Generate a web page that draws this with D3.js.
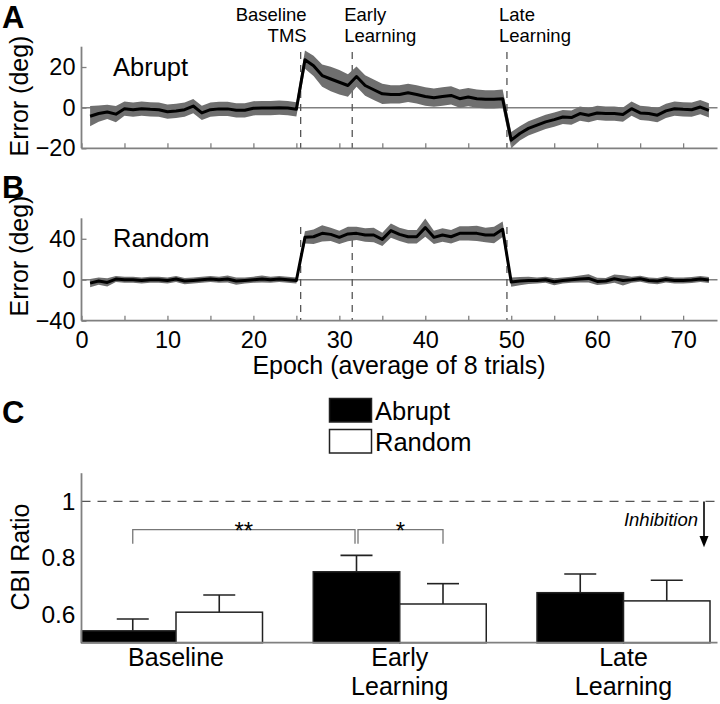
<!DOCTYPE html>
<html><head><meta charset="utf-8">
<script src="https://cdn.jsdelivr.net/npm/d3@7"></script>
<style>
body{margin:0;background:#fff}
svg{display:block}
text{font-family:"Liberation Sans",Arial,Helvetica,sans-serif;fill:#000}
</style>
</head><body>
<svg id="c" width="720" height="704"></svg>
<script>
// ---------- DATA ----------
const epochs = d3.range(1, 74);
const abruptMean = [-4.2,-2.9,-2.1,-3.2,-0.5,-1,-0.5,-0.8,-1,-2,-1.6,-1,0.8,-2.6,-1,-0.6,-0.6,-1.3,-1.3,-0.3,-0.2,-0.2,0,-0.2,-0.8,
  23.6,20.6,15.8,14.1,12.5,10.9,15.3,10.9,8.8,6.8,6.5,6.5,7.3,6.5,5.5,4.9,5.5,6,4.4,5.2,4.4,4.1,4.1,4.4,
  -16,-12.7,-10.2,-8.6,-7,-5.9,-4.6,-4.9,-2.9,-3.7,-2.6,-2.9,-2.9,-3.4,-0.5,-2.6,-2.9,-3.7,-1.6,-0.5,-0.8,-1,0.3,-1.3];
const abruptSem = [5,4,3.5,4,3.5,3.5,3.5,3.5,3.5,3.5,3.5,3.5,3.5,3.5,3.5,3.5,3.5,3.5,3.5,3.5,3.5,3.5,3.5,3.5,3.5,
  4.5,5,5.5,6,6,5.5,5,5,5,5,4.5,4.5,4.5,4.5,4.5,4.5,4.5,4.5,4.5,4.5,4.5,4.5,4.5,4.5,
  4,3.5,3.5,3.5,3.5,3.5,3.5,3.5,3.5,3.5,3.5,3.5,3.5,3.5,3.5,3.5,3.5,3.5,3.5,3.5,3.5,3.5,3.5,3.5];
const randomMean = [-3.3,-1.3,-2.6,0.7,0,0,-0.7,0,0,-0.7,0.7,-1.3,-0.7,0,0.7,0,0.7,-1.3,-0.7,0,0.7,0,0.7,0,-0.7,
  41.4,42,45.3,44.3,41.4,44.7,45.3,43.7,43.7,39.4,48,44.3,42,42,50.9,41.4,43.7,42,45.3,45.3,45.3,43.7,43.7,49.3,
  -2.3,-1.3,-0.7,-0.7,0,-2,-0.7,0,0.7,1.3,-1.6,-1.3,1,-0.7,0,1,-0.7,-1.3,0.3,-0.7,-0.7,-0.3,0.7,-0.3];
const randomSem = [4,3.5,4,3,3,3,3,3,3,3,3,3,3,3,3,3,3.5,3.5,3,3,3.5,3,3,3,3,
  6,7,8,6.5,6.5,7,6.5,6.5,7,6.5,7,6.5,6.5,6.5,9,6.5,6.5,6.5,7,7,7.5,7,8,7.5,
  4.5,4,3.5,3,3,3.5,3,3,3.5,4,3.5,3,4,5,3,3,3,3,3,3,3,3,3,3];
const phaseEpochs = [25.5, 31.5, 49.5];
const phaseLabels = [["Baseline","TMS"],["Early","Learning"],["Late","Learning"]];
const xTicks = [0,5,10,15,20,25,30,35,40,45,50,55,60,65,70];
const yTicksA = [-20,0,20];
const yTicksB = [-40,0,40];

const categories = ["Baseline","Early Learning","Late Learning"];
const abruptCBI = [0.542, 0.751, 0.677];
const abruptErr = [0.042, 0.058, 0.066];
const randomCBI = [0.608, 0.637, 0.648];
const randomErr = [0.061, 0.072, 0.073];
const yTicksC = [0.6, 0.8, 1];

// ---------- SETUP ----------
const svg = d3.select("#c");
const AX = "#808080";
const x = d3.scaleLinear().domain([0, 74]).range([81.5, 717.5]);
const yA = d3.scaleLinear().domain([-20, 30]).range([148.3, 46.7]);
const yB = d3.scaleLinear().domain([-40, 60]).range([320.7, 218.3]);

function panel(y, mean, sem, yTicks, showXLabels, label, labelY, dashTop) {
  const g = svg.append("g");
  g.append("line").attr("x1", x.range()[0]).attr("x2", x.range()[1])
    .attr("y1", y(0)).attr("y2", y(0)).attr("stroke", AX).attr("stroke-width", 1.5);
  phaseEpochs.forEach(p => {
    g.append("line").attr("x1", x(p)).attr("x2", x(p))
      .attr("y1", dashTop).attr("y2", y.range()[0])
      .attr("stroke", "#555").attr("stroke-width", 1.3).attr("stroke-dasharray", "7,6");
  });
  const data = epochs.map((e, i) => ({e, m: mean[i], s: sem[i]}));
  g.append("path").datum(data)
    .attr("d", d3.area().x(d => x(d.e)).y0(d => y(d.m - d.s)).y1(d => y(d.m + d.s)))
    .attr("fill", "#6f6f6f");
  g.append("path").datum(data)
    .attr("d", d3.line().x(d => x(d.e)).y(d => y(d.m)))
    .attr("fill", "none").attr("stroke", "#000").attr("stroke-width", 3).attr("stroke-linejoin", "round");
  const ya = g.append("g").attr("transform", `translate(${x.range()[0]},0)`)
    .call(d3.axisLeft(y).tickValues(yTicks).tickSize(-5).tickPadding(6));
  const xa = g.append("g").attr("transform", `translate(0,${y.range()[0]})`)
    .call(d3.axisBottom(x).tickValues(xTicks).tickSize(-5).tickPadding(11)
      .tickFormat(d => (showXLabels && d % 10 === 0) ? d : ""));
  [ya, xa].forEach(a => {
    a.select(".domain").attr("stroke", AX).attr("stroke-width", 1.8);
    a.selectAll(".tick line").attr("stroke", AX).attr("stroke-width", 1.3);
    a.selectAll("text").attr("font-size", 23.5).attr("font-family", "Liberation Sans, Arial, sans-serif").attr("fill", "#000");
  });
  ya.select(".domain").attr("d", `M0,${y.range()[1]}V${y.range()[0]}`);
  xa.select(".domain").attr("d", `M${x.range()[0]},0H${x.range()[1]}`);
  g.append("text").attr("x", 113).attr("y", labelY).attr("font-size", 25.5).text(label);
}

panel(yA, abruptMean, abruptSem, yTicksA, false, "Abrupt", 76, 52);
panel(yB, randomMean, randomSem, yTicksB, true, "Random", 247, 227);

phaseLabels.forEach((lines, i) => {
  const anchor = i === 0 ? "end" : "start";
  const xx = i === 0 ? x(phaseEpochs[i]) + 6 : x(phaseEpochs[i]) - 8;
  lines.forEach((t, j) => {
    svg.append("text").attr("x", xx).attr("y", 21 + j * 21)
      .attr("text-anchor", anchor).attr("font-size", 18.5).text(t);
  });
});

function ylabel(txt, cx, cy) {
  svg.append("text").attr("transform", `translate(${cx},${cy}) rotate(-90)`)
    .attr("text-anchor", "middle").attr("font-size", 25).text(txt);
}
ylabel("Error (deg)", 28, 96);
ylabel("Error (deg)", 28, 256);
svg.append("text").attr("x", 399).attr("y", 374).attr("text-anchor", "middle")
  .attr("font-size", 25).text("Epoch (average of 8 trials)");

[["A", 28], ["B", 198], ["C", 423]].forEach(([t, yy]) => {
  svg.append("text").attr("x", 2).attr("y", yy).attr("font-size", 31).attr("font-weight", "bold").text(t);
});

// ---------- PANEL C ----------
const yC = d3.scaleLinear().domain([0.5, 1.1]).range([642.7, 473.2]);
const xC = d3.scalePoint().domain(categories).range([176, 623.5]);
const bw = 86.5;
const xLeftC = 81.5, xRightC = 717.5;
const gC = svg.append("g");

gC.append("line").attr("x1", xLeftC).attr("x2", xRightC).attr("y1", yC(1)).attr("y2", yC(1))
  .attr("stroke", "#555").attr("stroke-width", 1.3).attr("stroke-dasharray", "9,7");

const bars = [];
categories.forEach((c, i) => {
  bars.push({c, i, s: "abrupt", v: abruptCBI[i], e: abruptErr[i], x0: (i === 0 ? xLeftC : xC(c) - bw), x1: xC(c), cx: xC(c) - bw / 2 });
  bars.push({c, i, s: "random", v: randomCBI[i], e: randomErr[i], x0: xC(c), x1: xC(c) + bw, cx: xC(c) + bw / 2 });
});
bars.forEach(b => {
  gC.append("line").attr("x1", b.cx).attr("x2", b.cx).attr("y1", yC(b.v)).attr("y2", yC(b.v + b.e))
    .attr("stroke", "#222").attr("stroke-width", 1.6);
  gC.append("line").attr("x1", b.cx - 16).attr("x2", b.cx + 16).attr("y1", yC(b.v + b.e)).attr("y2", yC(b.v + b.e))
    .attr("stroke", "#222").attr("stroke-width", 1.6);
});
gC.selectAll("rect.bar").data(bars).enter().append("rect")
  .attr("x", d => d.x0).attr("width", d => d.x1 - d.x0)
  .attr("y", d => yC(d.v)).attr("height", d => yC(0.5) - yC(d.v))
  .attr("fill", d => d.s === "abrupt" ? "#000" : "#fff")
  .attr("stroke", "#222").attr("stroke-width", 1.5);

const yaC = gC.append("g").attr("transform", `translate(${xLeftC},0)`)
  .call(d3.axisLeft(yC).tickValues(yTicksC).tickSize(0).tickPadding(6)
    .tickFormat(d => d === 1 ? "1" : d.toFixed(1)));
yaC.select(".domain").attr("d", `M0,${yC.range()[1]}V${yC.range()[0]}`).attr("stroke", AX).attr("stroke-width", 1.8);
yaC.selectAll("text").attr("font-size", 24.5).attr("font-family", "Liberation Sans, Arial, sans-serif").attr("fill", "#000");
gC.append("line").attr("x1", xLeftC).attr("x2", xRightC).attr("y1", yC(0.5)).attr("y2", yC(0.5))
  .attr("stroke", AX).attr("stroke-width", 1.8);

categories.forEach(c => {
  const parts = c.split(" ");
  parts.forEach((p, j) => {
    gC.append("text").attr("x", xC(c)).attr("y", 666 + j * 29).attr("text-anchor", "middle")
      .attr("font-size", 25).text(p);
  });
});
ylabel("CBI Ratio", 29, 557);

function bracket(xa, xb, label) {
  const yt = yC(0.9), yb = yC(0.85);
  gC.append("path").attr("d", `M${xa},${yb}V${yt}H${xb}V${yb}`)
    .attr("fill", "none").attr("stroke", "#777").attr("stroke-width", 1.3);
  gC.append("text").attr("x", (xa + xb) / 2).attr("y", yt + 9).attr("text-anchor", "middle")
    .attr("font-size", 24).text(label);
}
bracket(bars[0].cx, bars[2].cx - 1.5, "**");
bracket(bars[2].cx + 1.5, bars[3].cx, "*");

const axX = 704;
gC.append("line").attr("x1", axX).attr("x2", axX).attr("y1", yC(1)).attr("y2", yC(0.86))
  .attr("stroke", "#000").attr("stroke-width", 1.6);
gC.append("path").attr("d", `M${axX - 4.5},${yC(0.878)}L${axX + 4.5},${yC(0.878)}L${axX},${yC(0.838)}Z`).attr("fill", "#000");
gC.append("text").attr("x", 698).attr("y", 526).attr("text-anchor", "end")
  .attr("font-size", 18.5).attr("font-style", "italic").text("Inhibition");

const legend = [["Abrupt", "#000"], ["Random", "#fff"]];
legend.forEach(([t, f], i) => {
  gC.append("rect").attr("x", 329.5).attr("y", 398.5 + i * 31).attr("width", 42).attr("height", 23.5)
    .attr("fill", f).attr("stroke", "#222").attr("stroke-width", 1.5);
  gC.append("text").attr("x", 375).attr("y", 420 + i * 30.5).attr("font-size", 25.5).text(t);
});
</script>
</body></html>
